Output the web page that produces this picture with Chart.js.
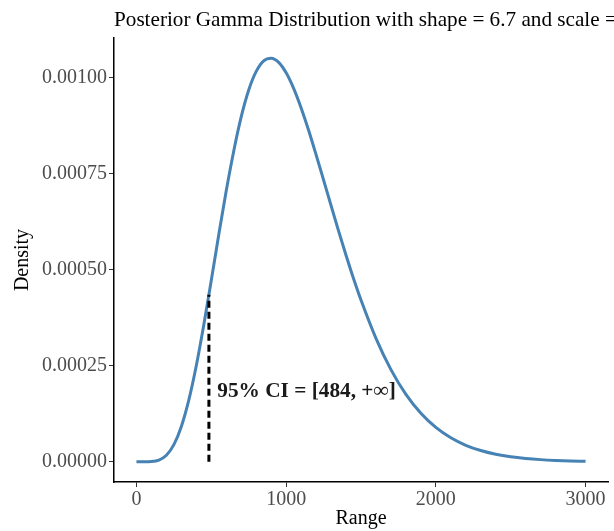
<!DOCTYPE html>
<html>
<head>
<meta charset="utf-8">
<script src="https://cdn.jsdelivr.net/npm/chart.js@4/dist/chart.umd.min.js"></script>
<style>
  body { margin: 0; background: #fff; }
</style>
</head>
<body>
<canvas id="chart1" width="614" height="531"></canvas>
<script>
    // density curve
    let rangeX = [0, 50, 100, 150, 200, 250, 300, 350, 400, 450, 500, 550, 600, 650, 700, 750, 800, 850, 900, 950,
        1000, 1050, 1100, 1150, 1200, 1250, 1300, 1350, 1400, 1450, 1500, 1600, 1700, 1800, 1900,
        2000, 2100, 2200, 2300, 2400, 2500, 2600, 2700, 2800, 2900, 3000];
    let density = [0, 0.00000002, 0.00000063, 0.0000046, 0.00001724, 0.0000447, 0.000092, 0.0001609, 0.0002504, 0.0003563,
        0.0004722, 0.0005912, 0.0007055, 0.0008087, 0.0008977, 0.0009673, 0.0010156, 0.0010432, 0.0010501, 0.0010392,
        0.0010119, 0.0009714, 0.0009205, 0.0008624, 0.0007988, 0.0007331, 0.0006668, 0.0006007, 0.0005374, 0.0004768,
        0.0004207, 0.0003212, 0.0002398, 0.0001754, 0.0001262,
        0.0000894, 0.0000624, 0.000043, 0.0000293, 0.0000197, 0.0000131, 0.0000087, 0.0000057, 0.0000037, 0.0000024, 0.0000015];

    let ciLower = 484;
    let ciTop = 0.0004344;
    let ciLabel = '95% CI = [484, +\u221e]';
    let ciLabelPos = [540, 0.000184];

    let xTicks = [0, 1000, 2000, 3000];
    let yTicks = [0, 0.00025, 0.0005, 0.00075, 0.001];

    let chartTitle = 'Posterior Gamma Distribution with shape = 6.7 and scale = 156.8';

    let serif = "'Liberation Serif', 'DejaVu Serif', serif";

    let curvePoints = rangeX.map(function(x, i) { return {x: x, y: density[i]}; });

    let extras = {
        id: 'extras',
        afterDraw: function(chart) {
            let ctx = chart.ctx;
            ctx.save();
            ctx.fillStyle = '#000';
            ctx.font = '21.2px ' + serif;
            ctx.textAlign = 'left';
            ctx.textBaseline = 'middle';
            ctx.fillText(chartTitle, chart.chartArea.left, 20);

            let xs = chart.scales.x, ys = chart.scales.y;
            ctx.font = 'bold 21.3px ' + serif;
            ctx.fillStyle = '#1a1a1a';
            ctx.fillText(ciLabel, xs.getPixelForValue(ciLabelPos[0]), ys.getPixelForValue(ciLabelPos[1]));
            ctx.restore();
        }
    };

    let chart1 = document.getElementById('chart1').getContext('2d');

    let gammaChart = new Chart(chart1, {
    type: 'scatter',
    data: {
    datasets: [{
        data: curvePoints,
        showLine: true,
        borderColor: '#4682B4',
        borderWidth: 3,
        pointRadius: 0,
        cubicInterpolationMode: 'monotone',
        order: 2
    }, {
        data: [{x: ciLower, y: 0}, {x: ciLower, y: ciTop}],
        showLine: true,
        borderColor: '#000',
        borderWidth: 3,
        borderDash: [7, 4],
        pointRadius: 0,
        order: 1
    }]
    },
    options: {
    responsive: false,
    animation: false,
    layout: {
        padding: {left: 0, right: 6, top: 38, bottom: 0}
    },
    plugins: {
        legend: {display: false},
        tooltip: {enabled: false}
    },
    scales: {
        x: {
            type: 'linear',
            min: -150,
            max: 3150,
            afterBuildTicks: function(scale) {
                scale.ticks = xTicks.map(function(v) { return {value: v}; });
            },
            afterFit: function(scale) { scale.height = 49; },
            grid: {drawOnChartArea: false, tickLength: 5, color: '#333', tickWidth: 1},
            border: {display: true, color: '#000', width: 1.5},
            ticks: {
                color: '#4d4d4d',
                font: {family: serif, size: 20},
                padding: 1,
                maxRotation: 0,
                callback: function(v) { return String(v); }
            },
            title: {
                display: true,
                text: 'Range',
                color: '#000',
                font: {family: serif, size: 20},
                padding: {top: 0, bottom: 0}
            }
        },
        y: {
            min: -0.0000525,
            max: 0.0011025,
            afterBuildTicks: function(scale) {
                scale.ticks = yTicks.map(function(v) { return {value: v}; });
            },
            afterFit: function(scale) { scale.width = 114; },
            grid: {drawOnChartArea: false, tickLength: 5, color: '#333', tickWidth: 1},
            border: {display: true, color: '#000', width: 1.5},
            ticks: {
                color: '#4d4d4d',
                font: {family: serif, size: 20},
                padding: 2,
                callback: function(v) { return v.toFixed(5); }
            },
            title: {
                display: true,
                text: 'Density',
                color: '#000',
                font: {family: serif, size: 20},
                padding: {top: 11, bottom: 0}
            }
        }
    }
    },
    plugins: [extras]
});
</script>
</body>
</html>
